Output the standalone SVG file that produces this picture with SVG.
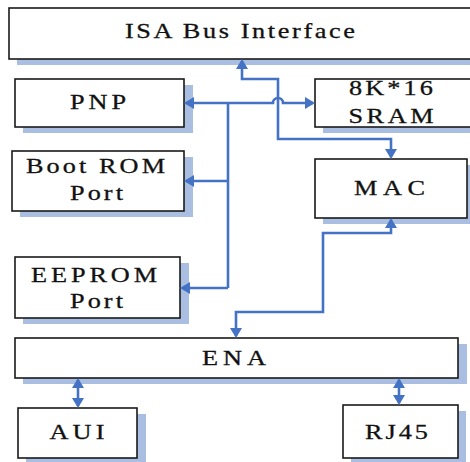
<svg xmlns="http://www.w3.org/2000/svg" width="470" height="462" viewBox="0 0 470 462">
<style>
.box{fill:#fff;stroke:#1a1a1a;stroke-width:1.6}
.sh{fill:#A9BEE0}
.t{font-family:"Liberation Serif","Times New Roman",serif;font-size:21px;fill:#111;stroke:#111;stroke-width:0.3;text-anchor:middle}
.c{fill:none;stroke:#4472C4;stroke-width:2.6;marker-start:url(#ah);marker-end:url(#ah)}
.c1{fill:none;stroke:#4472C4;stroke-width:2.6;marker-end:url(#ah)}
.c0{fill:none;stroke:#4472C4;stroke-width:2.6}
</style>
<defs>
<marker id="ah" viewBox="0 0 10 12" refX="8" refY="6" markerWidth="10" markerHeight="12" markerUnits="userSpaceOnUse" orient="auto-start-reverse">
<path d="M0,0 L10,6 L0,12 z" fill="#4472C4"/>
</marker>
</defs>
<rect width="470" height="462" fill="#fff"/>
<g id="isa">
<rect class="sh" x="17" y="14" width="460" height="51"/>
<rect class="box" x="9" y="8" width="470" height="51"/>
<text class="t" transform="scale(1.25,1)" x="192" y="38.5" textLength="184" lengthAdjust="spacing">ISA Bus Interface</text>
</g>
<g id="pnp">
<rect class="sh" x="23" y="85" width="170" height="48"/>
<rect class="box" x="15" y="79" width="169" height="48"/>
<text class="t" transform="scale(1.25,1)" x="78.4" y="109.5" textLength="44.8" lengthAdjust="spacing">PNP</text>
</g>
<g id="sram">
<rect class="sh" x="323" y="85" width="160" height="48"/>
<rect class="box" x="315" y="79" width="170" height="48"/>
<text class="t" transform="scale(1.25,1)" x="312.8" y="95" textLength="67.2" lengthAdjust="spacing">8K*16</text>
<text class="t" transform="scale(1.25,1)" x="312.8" y="123" textLength="68" lengthAdjust="spacing">SRAM</text>
</g>
<g id="bootrom">
<rect class="sh" x="20" y="157" width="173" height="60"/>
<rect class="box" x="12" y="151" width="172" height="60"/>
<text class="t" transform="scale(1.25,1)" x="76.4" y="173" textLength="111.2" lengthAdjust="spacing">Boot ROM</text>
<text class="t" transform="scale(1.25,1)" x="77.2" y="200" textLength="42.4" lengthAdjust="spacing">Port</text>
</g>
<g id="mac">
<rect class="sh" x="323" y="165" width="160" height="59"/>
<rect class="box" x="315" y="159" width="152" height="59"/>
<text class="t" transform="scale(1.25,1)" x="311.6" y="195.5" textLength="56.8" lengthAdjust="spacing">MAC</text>
</g>
<g id="eeprom">
<rect class="sh" x="23" y="263" width="166" height="61"/>
<rect class="box" x="15" y="257" width="165" height="61"/>
<text class="t" transform="scale(1.25,1)" x="75.2" y="282" textLength="100.8" lengthAdjust="spacing">EEPROM</text>
<text class="t" transform="scale(1.25,1)" x="77.2" y="308" textLength="42.4" lengthAdjust="spacing">Port</text>
</g>
<g id="ena">
<rect class="sh" x="23" y="344" width="444" height="40"/>
<rect class="box" x="15" y="338" width="443" height="40"/>
<text class="t" transform="scale(1.25,1)" x="187.2" y="365" textLength="51.2" lengthAdjust="spacing">ENA</text>
</g>
<g id="aui">
<rect class="sh" x="26" y="414" width="120" height="50"/>
<rect class="box" x="18" y="408" width="119" height="50"/>
<text class="t" transform="scale(1.25,1)" x="61.6" y="439" textLength="44" lengthAdjust="spacing">AUI</text>
</g>
<g id="rj45">
<rect class="sh" x="351" y="411" width="115" height="53"/>
<rect class="box" x="343" y="405" width="115" height="53"/>
<text class="t" transform="scale(1.25,1)" x="317.2" y="439" textLength="50.4" lengthAdjust="spacing">RJ45</text>
</g>
<g id="connectors">
<path class="c" d="M242,61 V79 H278 V139 H391 V157"/>
<path class="c" d="M186,103 H273 A5,5 0 0 1 283,103 H313"/>
<path class="c0" d="M228,103 V288"/>
<path class="c1" d="M228,181 H186"/>
<path class="c1" d="M228,288 H182"/>
<path class="c" d="M391,220 V233 H323 V312 H236 V336"/>
<path class="c" d="M78,380 V406"/>
<path class="c" d="M399,380 V403"/>
</g>
</svg>
